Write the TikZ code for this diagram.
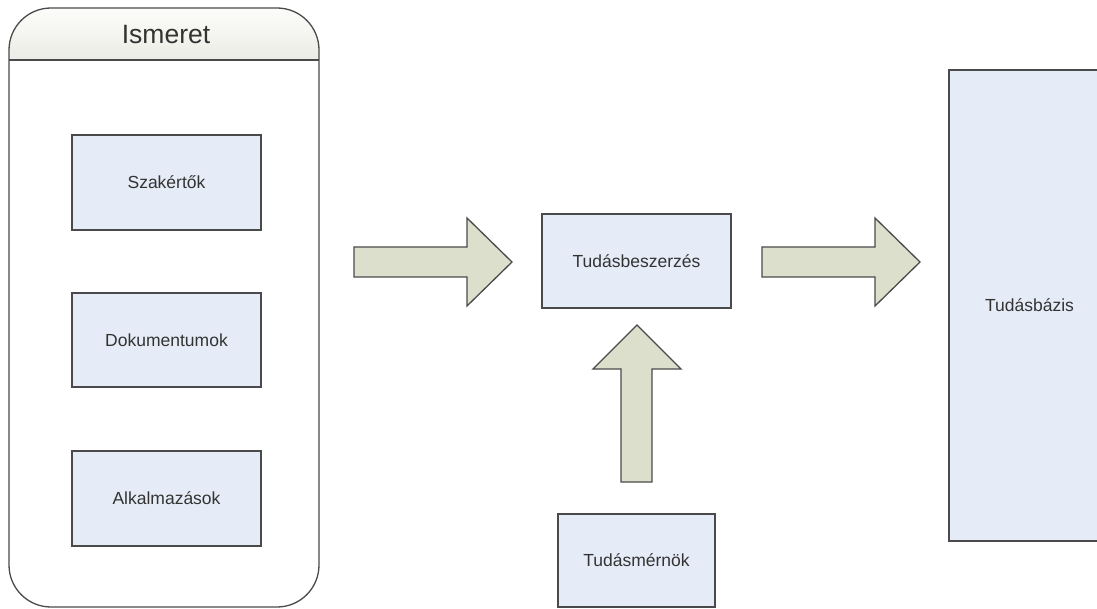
\documentclass[tikz,border=0pt]{standalone}
\usepackage{fontspec}
\setmainfont{Liberation Sans}
\begin{document}
\definecolor{boxfill}{HTML}{E6ECF7}
\definecolor{arrowfill}{HTML}{DCDFCC}
\definecolor{edge}{HTML}{4A4A4A}
\definecolor{ink}{HTML}{333333}
\definecolor{headtop}{HTML}{FCFCFA}
\definecolor{headbot}{HTML}{ECECE6}
\begin{tikzpicture}[x=1pt,y=-1pt,
  outline/.style={draw=edge,line width=1.3pt},
  itembox/.style={outline,fill=boxfill,rectangle,inner sep=0pt,
    font=\fontsize{17.5}{19}\selectfont,text=ink},
  blockarrow/.style={outline,fill=arrowfill,line join=miter}]
\useasboundingbox (0,0) rectangle (1097,609);
\clip (0,0) rectangle (1097,609);

% container "Ismeret" with a shaded header strip
\begin{scope}
  \clip[rounded corners=42pt] (9,8) rectangle (319,607);
  \fill[white] (9,8) rectangle (319,607);
  \shade[top color=headtop,bottom color=headbot] (9,8) rectangle (319,60);
\end{scope}
\draw[outline,rounded corners=42pt] (9,8) rectangle (319,607);
\draw[outline] (9,60) -- (319,60);
\node[text=ink,font=\fontsize{26.5}{29}\selectfont] (ismeret) at (166,35) {Ismeret};

% source boxes
\node[itembox,minimum width=189pt,minimum height=95pt] (szak) at (166.5,182.5) {Szakértők};
\node[itembox,minimum width=189pt,minimum height=94pt] (doku) at (166.5,340) {Dokumentumok};
\node[itembox,minimum width=189pt,minimum height=95pt] (alk) at (166.5,498.5) {Alkalmazások};

% process and result boxes (the knowledge base runs past the right edge)
\node[itembox,minimum width=189pt,minimum height=94pt] (beszerzes) at (636.5,261) {Tudásbeszerzés};
\node[itembox,minimum width=157pt,minimum height=93pt] (mernok) at (636.5,560.5) {Tudásmérnök};
\node[itembox,minimum width=161pt,minimum height=471pt] (bazis) at (1029.5,305.5) {Tudásbázis};

% block arrows
\draw[blockarrow] (354,247) -- (467,247) -- (467,218) -- (512,262) -- (467,306) -- (467,277) -- (354,277) -- cycle;
\draw[blockarrow] (762,247) -- (875,247) -- (875,218) -- (920,262) -- (875,306) -- (875,277) -- (762,277) -- cycle;
\draw[blockarrow] (621,482) -- (621,369) -- (593,369) -- (637,325) -- (681,369) -- (652,369) -- (652,482) -- cycle;
\end{tikzpicture}
\end{document}
